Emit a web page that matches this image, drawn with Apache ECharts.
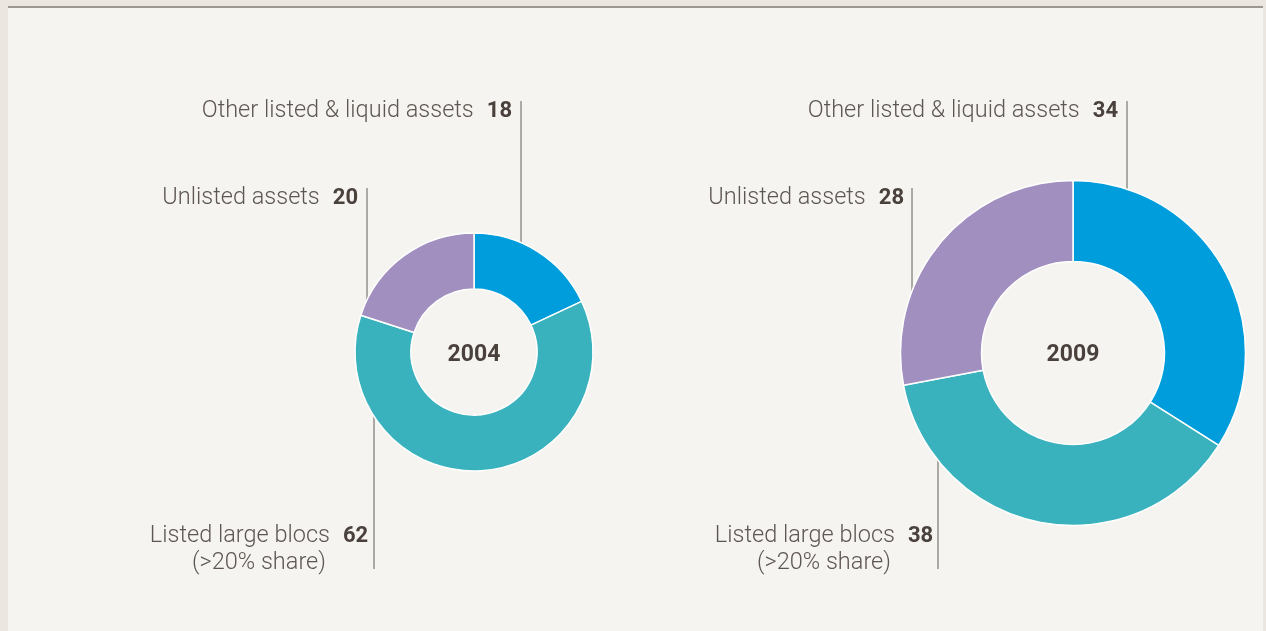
<!DOCTYPE html>
<html>
<head>
<meta charset="utf-8">
<title>Asset mix 2004 vs 2009</title>
<script src="https://cdn.jsdelivr.net/npm/echarts@6/dist/echarts.min.js"></script>
<style>
  html, body { margin: 0; padding: 0; background: #ebe6e0; }
  #chart { width: 1266px; height: 631px; }
</style>
</head>
<body>
<div id="chart"></div>
<script>
// data (percent of portfolio)
var years = ["2004", "2009"];
var categories = ["Other listed & liquid assets", "Listed large blocs", "Unlisted assets"];
var subNotes = ["", "(>20% share)", ""];
var values2004 = [18, 62, 20];
var values2009 = [34, 38, 28];
var colors = ["#009ddc", "#39b2bd", "#a190bf"];

// where the callouts sit (px), per year, per category
var callouts = [
  [
    { x: 512, y: 111, align: "right", lineX: 521, top: 101, bottom: 247 },
    { x: 259, y: 550, align: "center", lineX: 374, top: 406, bottom: 569 },
    { x: 358, y: 198, align: "right", lineX: 367, top: 188, bottom: 311 }
  ],
  [
    { x: 1118, y: 111, align: "right", lineX: 1127, top: 101, bottom: 196 },
    { x: 824, y: 550, align: "center", lineX: 938, top: 453, bottom: 569 },
    { x: 904, y: 198, align: "right", lineX: 912, top: 188, bottom: 303 }
  ]
];

function pieData(vals) {
  var out = [];
  for (var i = 0; i < vals.length; i++) {
    out.push({ name: categories[i], value: vals[i], itemStyle: { color: colors[i] } });
  }
  return out;
}

function labelText(p) {
  var i = p.dataIndex;
  var s = "{n|" + categories[i] + "}{v|" + p.value + "}";
  if (subNotes[i]) s += "\n{n|" + subNotes[i] + "}";
  return s;
}

function makeSeries(idx, vals, center, radius) {
  return {
    type: "pie",
    center: center,
    radius: radius,
    startAngle: 90,
    clockwise: true,
    avoidLabelOverlap: false,
    data: pieData(vals),
    itemStyle: { borderColor: "#ffffff", borderWidth: 1.5 },
    label: {
      show: true,
      position: "outside",
      formatter: labelText,
      rich: {
        n: { fontFamily: "Roboto", fontWeight: 300, fontSize: 23.5, color: "#5e5652", lineHeight: 27 },
        v: { fontFamily: "Roboto", fontWeight: "bold", fontSize: 22, color: "#4a413c", lineHeight: 27, padding: [0, 0, 0, 13] }
      }
    },
    labelLine: { show: true, lineStyle: { color: "#655e5a", width: 1 } },
    labelLayout: function (params) {
      var c = callouts[idx][params.dataIndex];
      return {
        x: c.x,
        y: c.y,
        align: c.align,
        verticalAlign: "middle",
        labelLinePoints: [[c.lineX, c.top], [c.lineX, c.bottom]]
      };
    },
    emphasis: { disabled: true }
  };
}

var chart = echarts.init(document.getElementById("chart"));
chart.setOption({
  animation: false,
  backgroundColor: "#ebe6e0",
  graphic: [
    { type: "rect", z: -10, shape: { x: 8, y: 8, width: 1255, height: 623 }, style: { fill: "#f5f4f0" } },
    { type: "line", z: -5, shape: { x1: 8, y1: 7, x2: 1263, y2: 7 }, style: { stroke: "#9c9792", lineWidth: 2 } },
    { type: "text", x: 474, y: 355, style: { text: years[0], align: "center", verticalAlign: "middle", fontFamily: "Roboto", fontWeight: "bold", fontSize: 23, fill: "#4a413c" } },
    { type: "text", x: 1073, y: 355, style: { text: years[1], align: "center", verticalAlign: "middle", fontFamily: "Roboto", fontWeight: "bold", fontSize: 23, fill: "#4a413c" } }
  ],
  series: [
    makeSeries(0, values2004, [474, 352], [63, 119]),
    makeSeries(1, values2009, [1073, 353], [91.5, 172.5])
  ]
});
</script>
</body>
</html>
